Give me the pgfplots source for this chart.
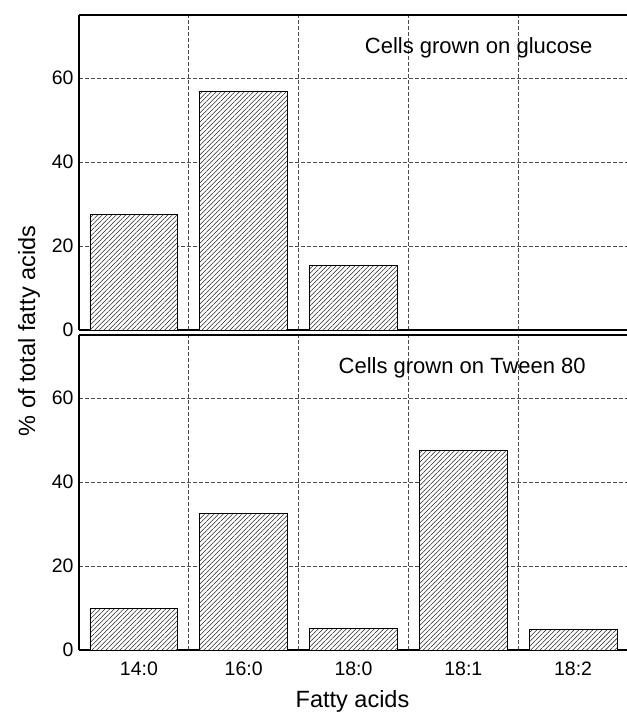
\documentclass[border=0pt]{standalone}
\usepackage{pgfplots}
\pgfplotsset{compat=1.18}
\usepackage{fontspec}
\setmainfont{Liberation Sans}
\usetikzlibrary{patterns.meta}

\begin{document}
\begin{tikzpicture}[x=1pt,y=1pt]
\pgfplotsset{
  panel/.style={
    scale only axis, width=549pt, height=315pt,
    xmin=-0.5, xmax=4.5, ymin=0, ymax=75,
    axis y line*=left,
    axis line style={line width=1.6pt},
    xtick={0,1,2,3,4},
    minor xtick={0.5,1.5,2.5,3.5},
    ytick={0,20,40,60},
    ymajorgrids, xminorgrids,
    major grid style={dash pattern=on 3.5pt off 2.5pt, black!70, line width=0.7pt},
    minor grid style={dash pattern=on 3.5pt off 2.5pt, black!70, line width=0.7pt},
    major tick length=0pt, minor tick length=0pt,
    tick label style={font=\fontsize{19.5}{22}\selectfont},
    /pgf/number format/assume math mode=true,
    yticklabel style={xshift=-2pt},
    ybar, bar width=0.8,
    anchor=south west,
  },
  hbar/.style={draw=black, line width=0.9pt, fill=white,
    postaction={pattern={Lines[angle=45,distance=3.3pt,line width=0.55pt]}, pattern color=black!85}},
}
\begin{axis}[panel, at={(79pt,384pt)}, xticklabels={}]
  \addplot[hbar] coordinates {(0,27.6) (1,56.7) (2,15.4)};
  \node[font=\fontsize{22}{26}\selectfont] at (axis cs:3.14,67.1) {Cells grown on glucose};
\end{axis}
\begin{axis}[panel, at={(79pt,64pt)}, xticklabels={\kern10pt 14:0,16:0,18:0,18:1,18:2},
  xticklabel style={yshift=-8.5pt}]
  \addplot[hbar] coordinates {(0,9.8) (1,32.5) (2,5.2) (3,47.4) (4,4.8)};
  \node[font=\fontsize{22}{26}\selectfont] at (axis cs:2.99,67.1) {Cells grown on Tween 80};
\end{axis}
\node[rotate=90, font=\fontsize{23.5}{28}\selectfont] at (29,383) {\% of total fatty acids};
\node[anchor=base, font=\fontsize{23.5}{28}\selectfont] at (352.5,6) {Fatty acids};
\pgfresetboundingbox
\path[use as bounding box] (0,0) rectangle (626,714);
\end{tikzpicture}
\end{document}
